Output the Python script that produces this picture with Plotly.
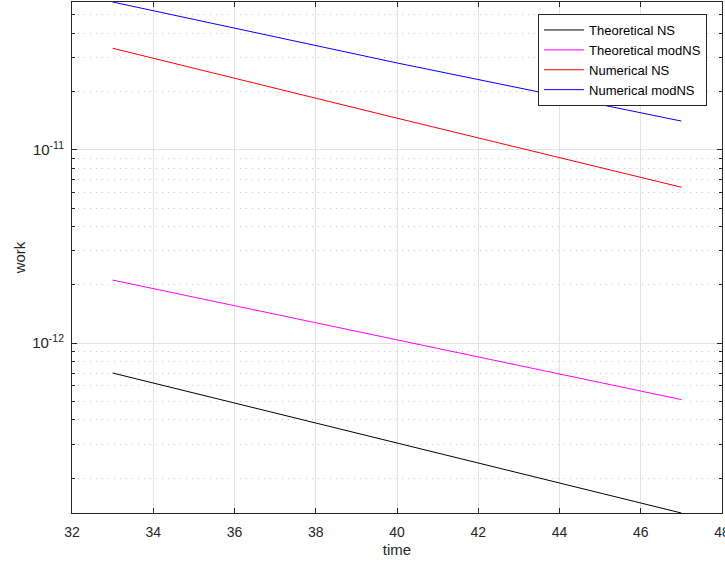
import plotly.graph_objects as go
import numpy as np

time = [33, 40, 47]
theoretical_ns = [7.0e-13, 3.05e-13, 1.32e-13]
theoretical_modns = [2.12e-12, 1.04e-12, 5.1e-13]
numerical_ns = [3.36e-11, 1.46e-11, 6.41e-12]
numerical_modns = [5.83e-11, 2.82e-11, 1.41e-11]

series = [
    ("Theoretical NS", theoretical_ns, "#000000"),
    ("Theoretical modNS", theoretical_modns, "#ff00ff"),
    ("Numerical NS", numerical_ns, "#ff0000"),
    ("Numerical modNS", numerical_modns, "#0000ff"),
]

x_ticks = [32, 34, 36, 38, 40, 42, 44, 46, 48]
y_ticks = [1e-12, 1e-11]
y_tick_labels = ["10<sup>-12</sup>", "10<sup>-11</sup>"]
y_minor = [m * 10.0**e for e in (-13, -12, -11) for m in range(2, 10)]

fig = go.Figure()
for name, vals, col in series:
    fig.add_trace(go.Scatter(x=time, y=vals, mode="lines", name=name,
                             line=dict(color=col, width=1)))

all_vals = theoretical_ns + theoretical_modns + numerical_ns + numerical_modns
ymin, ymax = np.log10(min(all_vals)), np.log10(max(all_vals))

axis_col = "#262626"
fig.update_layout(
    width=725, height=563,
    margin=dict(l=72, r=3, t=2, b=50, autoexpand=False),
    paper_bgcolor="white", plot_bgcolor="white",
    font=dict(family="Liberation Sans, Arial, sans-serif", size=14, color=axis_col),
    showlegend=True,
    legend=dict(x=0.977, y=0.9765, xanchor="right", yanchor="top",
                bgcolor="white", bordercolor=axis_col, borderwidth=1,
                font=dict(size=13, color="#000000"), tracegroupgap=0,
                itemwidth=40),
    xaxis=dict(range=[32, 48], tickvals=x_ticks, ticks="inside", ticklen=5,
               tickcolor=axis_col, showline=True, linecolor=axis_col, linewidth=1,
               mirror="allticks", showgrid=True, gridcolor="#e3e3e3", gridwidth=1,
               zeroline=False, ticklabeloverflow="allow", ticklabelstandoff=6,
               tickfont=dict(size=14), automargin=False,
               title=dict(text="time", font=dict(size=15), standoff=5)),
    yaxis=dict(type="log", range=[ymin, ymax], tickvals=y_ticks, ticktext=y_tick_labels,
               ticks="inside", ticklen=5, tickcolor=axis_col, showline=True,
               linecolor=axis_col, linewidth=1, mirror="allticks",
               showgrid=True, gridcolor="#e3e3e3", gridwidth=1, zeroline=False,
               tickfont=dict(size=15), ticklabelstandoff=4, automargin=False,
               title=dict(text="work", font=dict(size=15), standoff=2),
               minor=dict(tickvals=y_minor, ticks="inside", ticklen=3,
                          tickcolor=axis_col, showgrid=True, gridcolor="#c4c4c4",
                          griddash="1px,5px", gridwidth=1)),
)

fig.write_html("out.html")
